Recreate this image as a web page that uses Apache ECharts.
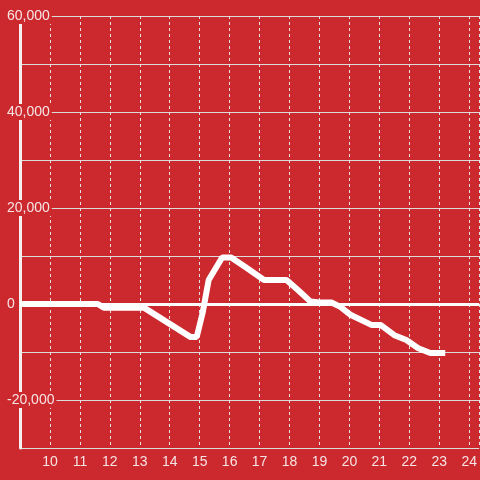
<!DOCTYPE html>
<html>
<head>
<meta charset="utf-8">
<script src="https://cdn.jsdelivr.net/npm/echarts@6/dist/echarts.min.js"></script>
<style>
	html, body { margin: 0; padding: 0; background: #cc292e; }
	#chart { width: 480px; height: 480px; }
</style>
</head>
<body>
<div id="chart"></div>
<script>
// hours of the day and the values
var hours = [9, 11.6, 11.8, 13.15, 14.7, 14.9, 15.1, 15.3, 15.75, 16.05, 16.5, 17.15, 17.9,
	18.3, 18.7, 19.0, 19.4, 19.7, 20.05, 20.75, 21.05, 21.5, 21.9, 22.3, 22.7, 23.2];
var values = [0, 0, -800, -800, -6900, -6900, -1800, 5000, 9700, 9700, 7800, 5000, 5000,
	2800, 500, 300, 300, -600, -2300, -4400, -4400, -6500, -7500, -9200, -10200, -10200];
var yLabels = [60000, 40000, 20000, 0, -20000];

var bg = '#cc292e';
var textColor = '#f6e4e4';

var seriesData = [];
for (var i = 0; i < hours.length; i++) {
	seriesData.push([hours[i], values[i]]);
}

var chart = echarts.init(document.getElementById('chart'));
var option = {
	backgroundColor : bg,
	animation : false,
	grid : {
		left : 20,
		right : 0,
		top : 16,
		bottom : 32
	},
	xAxis : {
		type : 'value',
		min : 9,
		max : 9 + 460 / 30,
		interval : 1,
		axisLine : { show : false, onZero : false },
		axisTick : { show : false },
		axisLabel : {
			color : textColor,
			fontFamily : 'Liberation Sans',
			fontSize : 14,
			margin : 7,
			showMinLabel : false,
			showMaxLabel : false
		},
		splitLine : {
			show : true,
			lineStyle : { color : '#e2e2e2', width : 1, type : [3, 3] }
		}
	},
	yAxis : {
		type : 'value',
		min : -30000,
		max : 60000,
		interval : 10000,
		axisLine : {
			show : true,
			lineStyle : { color : '#f4f0f0', width : 3 }
		},
		axisTick : { show : false },
		axisLabel : {
			color : textColor,
			fontFamily : 'Liberation Sans',
			fontSize : 14,
			align : 'left',
			margin : 15,
			backgroundColor : bg,
			padding : [1, 2],
			formatter : function(v) {
				if (yLabels.indexOf(v) < 0) return '';
				return echarts.format.addCommas(v);
			}
		},
		splitLine : {
			show : true,
			lineStyle : { color : '#dcdcdc', width : 1 }
		}
	},
	series : [ {
		type : 'line',
		data : seriesData,
		showSymbol : false,
		lineStyle : { color : '#ffffff', width : 6 },
		markLine : {
			silent : true,
			symbol : 'none',
			label : { show : false },
			lineStyle : { color : '#ffffff', width : 3, type : 'solid' },
			data : [ { yAxis : 0 } ]
		},
		z : 3
	} ]
};
chart.setOption(option);
</script>
</body>
</html>
